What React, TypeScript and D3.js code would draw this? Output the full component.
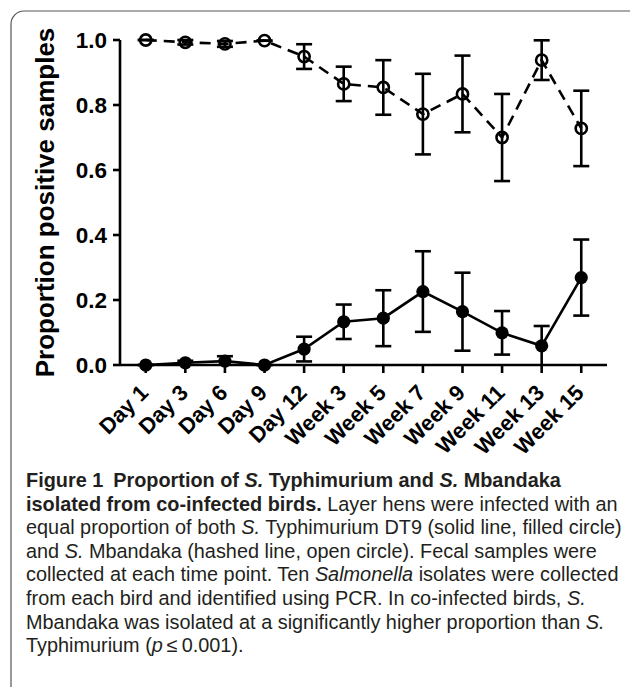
import React, { useLayoutEffect, useRef, useState } from "react";
import * as d3 from "d3";

const categories = ["Day 1", "Day 3", "Day 6", "Day 9", "Day 12", "Week 3", "Week 5", "Week 7", "Week 9", "Week 11", "Week 13", "Week 15"];
const mbandakaMean = [1.0, 0.993, 0.988, 0.998, 0.949, 0.865, 0.854, 0.772, 0.834, 0.7, 0.938, 0.728];
const mbandakaSem = [0, 0.007, 0.009, 0, 0.038, 0.053, 0.084, 0.124, 0.118, 0.134, 0.061, 0.116];
const typhiMean = [0, 0.007, 0.012, 0, 0.049, 0.133, 0.144, 0.226, 0.164, 0.099, 0.059, 0.269];
const typhiSem = [0, 0.006, 0.015, 0, 0.038, 0.053, 0.086, 0.124, 0.12, 0.067, 0.061, 0.117];
const yTicks = [0, 0.2, 0.4, 0.6, 0.8, 1.0];
const yTitle = "Proportion positive samples";

const W = 630;
const H = 687;

export default function App() {
  const x = d3.scalePoint<string>().domain(categories).range([120, 607]).padding(0.65);
  const y = d3.scaleLinear().domain([0, 1]).range([365, 40]);
  const sw = 2.6;

  const lineGen = d3
    .line<number>()
    .x((_, i) => x(categories[i]) as number)
    .y((d) => y(d));

  const axisFont = "'Liberation Sans', Arial, sans-serif";
  const capFont = "'Liberation Sans', Arial, sans-serif";

  const refLine = useRef<SVGTextElement>(null);
  const baseFs = 17.5;
  const [fs, setFs] = useState(baseFs);
  useLayoutEffect(() => {
    if (refLine.current) {
      const len = refLine.current.getComputedTextLength();
      if (len > 0) setFs(Math.min(20, (baseFs * 596) / len));
    }
  }, []);

  const errBars = (mean: number[], sem: number[], key: string) =>
    mean.map((m, i) => {
      const cx = x(categories[i]) as number;
      const lo = y(Math.max(0, m - sem[i]));
      const hi = y(Math.min(1, m + sem[i]));
      return (
        <g key={key + i} stroke="#000" strokeWidth={sw} fill="none">
          <line x1={cx} x2={cx} y1={lo} y2={hi} />
          <line x1={cx - 8} x2={cx + 8} y1={hi} y2={hi} />
          {m - sem[i] > 0.001 || sem[i] === 0 ? <line x1={cx - 8} x2={cx + 8} y1={lo} y2={lo} /> : null}
        </g>
      );
    });

  const capX = 26;
  const capY0 = 487;
  const lh = 23.6;

  return (
    <svg width={W} height={H} style={{ position: "absolute", left: 0, top: 0 }}>
      <rect x={11} y={11} width={640} height={700} rx={13} fill="#fff" stroke="#555" strokeWidth={1.2} />

      {/* axes */}
      <g stroke="#000" strokeWidth={sw} fill="none">
        <line x1={120} x2={120} y1={y(1)} y2={y(0)} />
        <line x1={120} x2={607} y1={y(0)} y2={y(0)} />
        {yTicks.map((t) => (
          <line key={"yt" + t} x1={113} x2={120} y1={y(t)} y2={y(t)} />
        ))}
        {categories.map((c) => (
          <line key={"xt" + c} x1={x(c)} x2={x(c)} y1={y(0)} y2={y(0) + 8} />
        ))}
      </g>
      {yTicks.map((t) => (
        <text key={"yl" + t} x={107} y={y(t) + 8} textAnchor="end" fontFamily={axisFont} fontWeight="bold" fontSize={22.5}>
          {t.toFixed(1)}
        </text>
      ))}
      {categories.map((c) => (
        <text
          key={"xl" + c}
          transform={`translate(${(x(c) as number) + 4},${394}) rotate(-45)`}
          textAnchor="end"
          fontFamily={axisFont}
          fontWeight="bold"
          fontSize={22}
        >
          {c}
        </text>
      ))}
      <text
        transform={`translate(54,202.5) rotate(-90)`}
        textAnchor="middle"
        fontFamily={axisFont}
        fontWeight="bold"
        fontSize={26}
      >
        {yTitle}
      </text>

      {/* series lines */}
      <path d={lineGen(mbandakaMean) || ""} fill="none" stroke="#000" strokeWidth={sw} strokeDasharray="11,7" />
      <path d={lineGen(typhiMean) || ""} fill="none" stroke="#000" strokeWidth={sw} />
      {errBars(mbandakaMean, mbandakaSem, "m")}
      {errBars(typhiMean, typhiSem, "t")}
      {mbandakaMean.map((m, i) => (
        <circle key={"mc" + i} cx={x(categories[i])} cy={y(m)} r={5.6} fill="none" stroke="#000" strokeWidth={sw} />
      ))}
      {typhiMean.map((m, i) => (
        <circle key={"tc" + i} cx={x(categories[i])} cy={y(m)} r={6.6} fill="#000" />
      ))}

      {/* caption */}
      <g fontFamily={capFont} fontSize={fs} fill="#231f20">
        <text x={capX} y={capY0} fontWeight="bold">
          Figure 1{"\u2002"}Proportion of <tspan fontStyle="italic">S.</tspan> Typhimurium and <tspan fontStyle="italic">S.</tspan> Mbandaka
        </text>
        <text x={capX} y={capY0 + lh}>
          <tspan fontWeight="bold">isolated from co-infected birds.</tspan> Layer hens were infected with an
        </text>
        <text x={capX} y={capY0 + 2 * lh} ref={refLine}>
          equal proportion of both <tspan fontStyle="italic">S.</tspan> Typhimurium DT9 (solid line, filled circle)
        </text>
        <text x={capX} y={capY0 + 3 * lh}>
          and <tspan fontStyle="italic">S.</tspan> Mbandaka (hashed line, open circle). Fecal samples were
        </text>
        <text x={capX} y={capY0 + 4 * lh}>
          collected at each time point. Ten <tspan fontStyle="italic">Salmonella</tspan> isolates were collected
        </text>
        <text x={capX} y={capY0 + 5 * lh}>
          from each bird and identified using PCR. In co-infected birds, <tspan fontStyle="italic">S.</tspan>
        </text>
        <text x={capX} y={capY0 + 6 * lh}>
          Mbandaka was isolated at a significantly higher proportion than <tspan fontStyle="italic">S.</tspan>
        </text>
        <text x={capX} y={capY0 + 7 * lh}>
          Typhimurium (<tspan fontStyle="italic">p</tspan>
          {"\u2009\u2264\u2009"}0.001).
        </text>
      </g>
    </svg>
  );
}
